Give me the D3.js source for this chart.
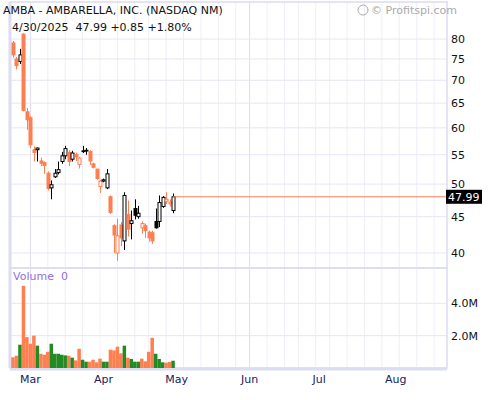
<!DOCTYPE html>
<html><head><meta charset="utf-8">
<script src="https://cdn.jsdelivr.net/npm/d3@7"></script>
<style>body{margin:0;background:#fff}svg{font-family:"DejaVu Sans",Verdana,sans-serif}</style>
</head><body><svg id="c" width="500" height="400"></svg>
<script>
const openP  = [79.0,75.0,74.4,81.3,63.2,62.0,55.9,55.9,53.9,53.6,51.8,49.4,51.2,51.9,53.8,54.8,55.4,54.2,55.0,53.3,55.6,55.7,55.6,53.4,52.5,49.6,50.5,49.4,48.0,43.7,40.0,43.8,41.6,45.3,44.0,46.2,45.0,43.4,43.7,42.8,42.7,44.3,44.3,46.5,47.3,46.9,45.9];
const closeP = [76.0,73.4,76.0,63.5,61.6,56.8,55.4,56.2,53.5,53.1,49.3,49.9,51.8,52.4,54.8,56.1,53.8,55.3,54.6,54.4,55.7,55.8,53.9,52.8,50.9,50.5,50.7,51.7,45.6,42.4,42.3,42.0,48.2,43.2,44.4,45.2,45.5,44.0,43.0,42.0,41.6,43.4,47.1,47.9,47.6,47.14,47.99];
const highP  = [79.5,75.5,77.5,81.5,64.0,62.3,56.5,56.3,54.5,53.8,52.1,50.6,52.5,53.8,55.5,56.6,55.8,55.7,55.4,54.6,56.6,56.2,55.8,53.6,52.5,50.7,50.9,52.5,48.2,43.9,44.7,44.2,48.7,47.4,45.9,47.6,46.6,44.3,44.0,43.0,43.0,46.2,48.2,48.1,48.7,47.6,48.5];
const lowP   = [75.3,72.5,73.8,63.3,59.6,56.2,53.8,53.8,53.0,51.7,49.0,47.6,51.0,51.6,53.4,54.2,53.0,53.8,53.9,52.6,55.3,55.0,53.2,52.6,50.7,48.6,50.3,49.2,45.4,40.0,39.0,40.9,40.4,42.2,41.8,44.6,44.7,42.6,42.0,41.5,41.2,43.3,43.5,46.3,46.9,46.5,45.5];
const volumeM = [0.66,0.76,1.44,5.08,1.91,1.50,2.00,1.38,0.88,0.82,1.00,1.50,0.88,0.88,0.82,0.78,0.76,0.64,0.47,1.19,0.51,0.39,0.39,0.51,0.35,0.58,0.39,0.39,1.13,1.09,1.32,0.91,1.38,0.64,0.56,0.39,0.39,0.58,0.41,1.00,1.87,0.88,0.56,0.35,0.33,0.37,0.45];
const priceTicks = [40,45,50,55,60,65,70,75,80];
const volTicks = [2,4];
const volTickLabels = ["2.0M","4.0M"];
const monthLabels = ["Mar","Apr","May","Jun","Jul","Aug"];
const title = "AMBA - AMBARELLA, INC. (NASDAQ NM)";
const quote = "4/30/2025  47.99 +0.85 +1.80%";

const holidays = ["2025-04-18","2025-05-26","2025-06-19","2025-07-04"];
const fmt = d3.timeFormat("%Y-%m-%d");
const days = d3.timeDays(new Date(2025,1,24), new Date(2025,7,30))
  .filter(d => d.getDay()>0 && d.getDay()<6 && !holidays.includes(fmt(d)));

const svg = d3.select("#c");
const L=10, R=447, PT=20, PB=268, VB=368;
const x = d3.scaleLinear().domain([0,1]).range([13,16.48]);
const y = d3.scaleLog().domain([38.1,85.1]).range([PB,PT]);
const yv = d3.scaleLinear().domain([0,4]).range([VB,303.3]);
const grid="#e6e6f6", border="#dcdcf2", orange="#ff7f50", green="#228b22";

const weekIdx=[], monthIdx=[];
days.forEach((d,i)=>{ const p=days[i-1];
  if(i>0 && (d.getDay()<p.getDay() || (d-p)>3*864e5)) weekIdx.push(i);
  if(i>0 && d.getMonth()!==p.getMonth()) monthIdx.push(i);});
const g = svg.append("g");
weekIdx.filter(i=>x(i)<R).forEach(i=>{
  g.append("line").attr("x1",x(i)).attr("x2",x(i)).attr("y1",PT-18).attr("y2",VB)
   .attr("stroke", monthIdx.includes(i)?"#dcdcf0":"#eeeefa").attr("stroke-width",1);
});
priceTicks.forEach(t=>g.append("line").attr("x1",L).attr("x2",R).attr("y1",y(t)).attr("y2",y(t)).attr("stroke",grid));
volTicks.forEach(t=>g.append("line").attr("x1",L).attr("x2",R).attr("y1",yv(t)).attr("y2",yv(t)).attr("stroke",grid));
svg.append("rect").attr("x",L).attr("y",PT-18).attr("width",R-L).attr("height",PB-PT+18).attr("fill","none").attr("stroke",border).attr("stroke-width",1.5);
svg.append("rect").attr("x",L).attr("y",PB).attr("width",R-L).attr("height",VB-PB).attr("fill","none").attr("stroke",border).attr("stroke-width",1.5);
svg.append("line").attr("x1",L).attr("x2",L).attr("y1",2).attr("y2",VB).attr("stroke",border).attr("stroke-width",3);
svg.append("line").attr("x1",L).attr("x2",R).attr("y1",VB+1).attr("y2",VB+1).attr("stroke",border).attr("stroke-width",3);

const ax = svg.append("g").attr("font-size",11).attr("fill","#111");
priceTicks.forEach(t=>ax.append("text").attr("x",451).attr("y",y(t)+4).text(t));
volTicks.forEach((t,i)=>ax.append("text").attr("x",451).attr("y",yv(t)+4).text(volTickLabels[i]));
monthIdx.forEach((i,k)=>{ if(k<monthLabels.length) ax.append("text").attr("x",x(i)).attr("y",383).attr("text-anchor","middle").attr("fill","#202060").text(monthLabels[k]);});

const n=closeP.length;
const colorOf = i => (i===0 ? closeP[0]>=openP[0] : closeP[i]>=closeP[i-1]);
svg.append("g").selectAll("rect").data(volumeM).join("rect")
  .attr("x",(d,i)=>x(i)-1.75).attr("width",3.5).attr("y",d=>yv(d)).attr("height",d=>VB-yv(d))
  .attr("fill",(d,i)=>colorOf(i)?green:orange);

const cg = svg.append("g");
for(let i=0;i<n;i++){
  const c = colorOf(i)?"#000":orange;
  const cx = Math.round(x(i))+0.5;
  cg.append("line").attr("x1",cx).attr("x2",cx).attr("y1",y(highP[i])).attr("y2",y(lowP[i])).attr("stroke",c).attr("stroke-width",1);
  const top=y(Math.max(openP[i],closeP[i])), bot=y(Math.min(openP[i],closeP[i]));
  const filled = closeP[i]<openP[i];
  cg.append("rect").attr("x",cx-1.5).attr("width",3).attr("y",top).attr("height",Math.max(bot-top,0.8))
    .attr("fill",filled?c:"#fff").attr("stroke",c).attr("stroke-width",1);
}
const last = closeP[n-1];
svg.append("line").attr("x1",x(n-1)).attr("x2",R).attr("y1",y(last)).attr("y2",y(last)).attr("stroke",orange).attr("stroke-width",1);
svg.append("rect").attr("x",446).attr("y",y(last)-7).attr("width",36).attr("height",14).attr("fill","#000");
svg.append("text").attr("x",448).attr("y",y(last)+4).attr("font-size",11).attr("fill","#fff").text(last.toFixed(2));

svg.append("text").attr("x",3).attr("y",14).attr("font-size",11).attr("fill","#111").text(title);
svg.append("text").attr("x",12).attr("y",31).attr("font-size",11).attr("fill","#111").attr("xml:space","preserve").text(quote);
svg.append("text").attr("x",13).attr("y",280).attr("font-size",11).attr("fill","#9370db").attr("xml:space","preserve").text("Volume  0");
const cp = svg.append("g").attr("fill","#aaa").attr("font-size",11);
cp.append("circle").attr("cx",363).attr("cy",10).attr("r",5).attr("fill","none").attr("stroke","#aaa");
cp.append("text").attr("x",371).attr("y",14).text("© Profitspi.com");
</script></body></html>
